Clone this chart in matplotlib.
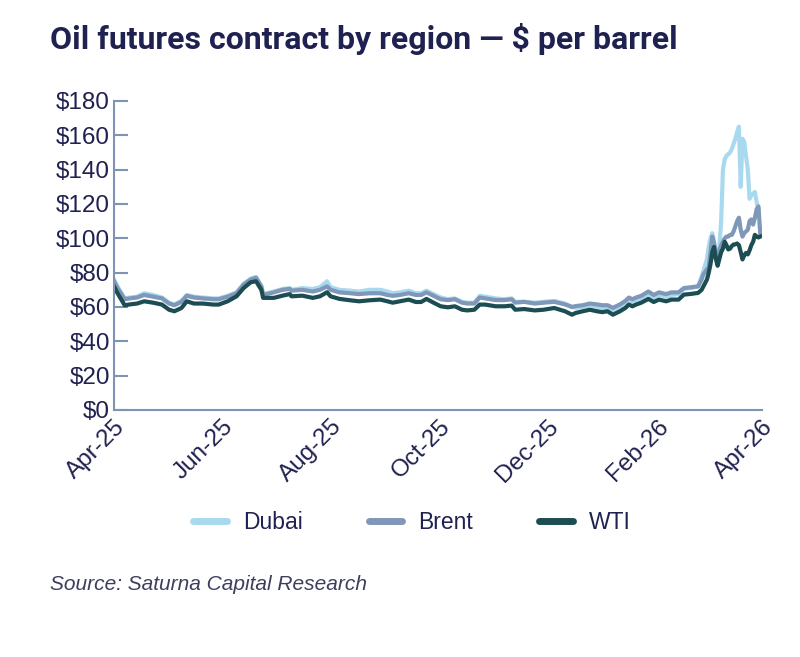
import numpy as np
import pandas as pd
import matplotlib
matplotlib.use("Agg")
import matplotlib.pyplot as plt
import matplotlib.dates as mdates

# values ($ per barrel)
dates = [
    "2025-04-01", "2025-04-03", "2025-04-07", "2025-04-10", "2025-04-14", "2025-04-18",
    "2025-04-23", "2025-04-28", "2025-05-02", "2025-05-05", "2025-05-09", "2025-05-12",
    "2025-05-16", "2025-05-21", "2025-05-27", "2025-05-30", "2025-06-04", "2025-06-09",
    "2025-06-13", "2025-06-17", "2025-06-20", "2025-06-23", "2025-06-24", "2025-06-30",
    "2025-07-05", "2025-07-09", "2025-07-10", "2025-07-16", "2025-07-22", "2025-07-26",
    "2025-07-30", "2025-08-01", "2025-08-06", "2025-08-12", "2025-08-17", "2025-08-23",
    "2025-08-29", "2025-09-02", "2025-09-05", "2025-09-09", "2025-09-14", "2025-09-18",
    "2025-09-21", "2025-09-24", "2025-09-28", "2025-10-02", "2025-10-06", "2025-10-10",
    "2025-10-14", "2025-10-17", "2025-10-21", "2025-10-24", "2025-10-27", "2025-11-02",
    "2025-11-07", "2025-11-11", "2025-11-13", "2025-11-18", "2025-11-24", "2025-11-29",
    "2025-12-05", "2025-12-11", "2025-12-15", "2025-12-17", "2025-12-21", "2025-12-25",
    "2025-12-29", "2026-01-01", "2026-01-04", "2026-01-07", "2026-01-11", "2026-01-14",
    "2026-01-16", "2026-01-18", "2026-01-20", "2026-01-23", "2026-01-27", "2026-01-30",
    "2026-02-02", "2026-02-06", "2026-02-09", "2026-02-13", "2026-02-16", "2026-02-20",
    "2026-02-24", "2026-02-26", "2026-02-27", "2026-03-01", "2026-03-02", "2026-03-03",
    "2026-03-04", "2026-03-05", "2026-03-06", "2026-03-07", "2026-03-08", "2026-03-09",
    "2026-03-10", "2026-03-11", "2026-03-12", "2026-03-13", "2026-03-14", "2026-03-15",
    "2026-03-16", "2026-03-17", "2026-03-18", "2026-03-19", "2026-03-20", "2026-03-21",
    "2026-03-22", "2026-03-23", "2026-03-24", "2026-03-25", "2026-03-26", "2026-03-27",
    "2026-03-28", "2026-03-29", "2026-03-30", "2026-03-31",
]

wti = [
    72.0, 68.0, 61.0, 61.5, 62.0, 63.3, 62.5, 61.4, 58.4, 57.5, 59.4, 63.3,
    62.0, 62.0, 61.4, 61.4, 63.3, 66.2, 71.0, 74.4, 75.0, 70.0, 65.3, 65.3,
    66.6, 67.5, 66.2, 66.6, 65.3, 66.2, 68.6, 66.2, 64.7, 63.9, 63.3, 63.9,
    64.3, 63.3, 62.5, 63.3, 64.3, 62.9, 62.9, 64.7, 62.5, 60.4, 59.8, 60.4,
    58.4, 58.0, 58.4, 61.4, 61.4, 60.4, 60.4, 60.8, 58.4, 58.8, 58.0, 58.4,
    59.4, 57.5, 55.5, 56.5, 57.5, 58.4, 57.5, 57.0, 57.5, 55.5, 57.5, 59.4,
    61.4, 60.4, 61.4, 62.5, 64.7, 62.9, 64.3, 63.3, 64.3, 64.3, 67.2, 67.6,
    68.2, 70.0, 72.0, 76.0, 80.0, 85.0, 92.0, 95.0, 88.0, 84.0, 88.0, 92.0,
    94.0, 98.0, 96.0, 93.5, 94.0, 95.5, 96.4, 96.5, 97.0, 96.0, 92.0, 87.7,
    90.0, 91.5, 90.6, 93.0, 96.0, 98.0, 102.0, 101.0, 100.5, 101.0,
]

brent = [
    75.0, 71.0, 64.5, 65.0, 65.5, 67.0, 66.0, 65.0, 62.0, 61.0, 63.0, 66.5,
    65.5, 65.0, 64.5, 64.5, 66.0, 68.0, 73.0, 76.0, 77.0, 72.0, 67.0, 68.5,
    70.0, 70.5, 69.5, 70.0, 69.0, 70.0, 72.0, 70.0, 68.5, 68.0, 67.5, 68.0,
    68.0, 67.0, 66.5, 67.0, 68.0, 67.0, 67.0, 68.5, 66.5, 64.5, 64.0, 64.5,
    62.5, 62.0, 62.0, 65.5, 65.0, 64.0, 64.0, 64.5, 62.5, 63.0, 62.0, 62.5,
    63.0, 61.5, 60.0, 60.5, 61.0, 62.0, 61.5, 61.0, 61.0, 59.5, 61.5, 63.5,
    65.5, 64.5, 65.5, 66.5, 69.0, 67.0, 68.5, 67.5, 68.5, 68.5, 71.0, 71.5,
    72.0, 76.0, 79.0, 82.0, 83.0, 92.0, 101.0, 97.0, 91.0, 89.0, 93.0, 96.0,
    98.0, 100.0, 101.0, 101.0, 102.0, 102.0, 104.0, 107.0, 110.0, 112.0, 105.0, 101.0,
    103.0, 104.0, 105.0, 110.0, 111.0, 108.0, 112.0, 117.0, 118.6, 103.0,
]

dubai = [
    76.0, 72.0, 65.0, 65.5, 66.0, 68.0, 67.0, 65.5, 62.5, 61.5, 63.5, 67.0,
    66.0, 65.5, 65.0, 65.0, 66.5, 68.5, 73.5, 76.5, 77.5, 72.0, 67.5, 69.0,
    70.5, 71.0, 70.0, 71.0, 70.5, 71.5, 75.0, 71.5, 70.0, 69.5, 69.0, 70.0,
    70.0, 69.0, 68.0, 68.5, 69.5, 68.0, 68.0, 69.5, 67.5, 65.5, 64.5, 65.0,
    63.0, 62.5, 62.5, 66.5, 66.0, 65.0, 64.5, 65.0, 63.0, 63.0, 62.5, 63.0,
    63.5, 62.0, 60.0, 59.5, 60.0, 61.0, 60.0, 59.5, 59.5, 58.0, 60.0, 62.0,
    64.0, 63.0, 64.0, 65.0, 67.5, 65.5, 67.0, 66.0, 67.0, 67.5, 70.5, 71.0,
    72.0, 78.0, 81.0, 88.0, 95.0, 100.0, 103.0, 98.0, 92.0, 90.0, 95.0, 110.0,
    140.0, 146.0, 148.0, 149.0, 150.0, 152.0, 155.0, 158.0, 162.0, 165.0, 130.0, 158.0,
    156.0, 148.0, 140.0, 123.0, 125.0, 126.0, 127.0, 121.0, 117.0, np.nan,
]

series = [("Dubai", dubai, "#a9d9ee"), ("Brent", brent, "#7f97b8"), ("WTI", wti, "#1c4d52")]

navy = "#1f2150"
axis_col = "#7f93b5"

x = pd.to_datetime(dates)

fig = plt.figure(figsize=(8, 6.57), dpi=100)
ax = fig.add_axes([0.1425, 0.376, 0.81, 0.4703])

for name, vals, col in series:
    ax.plot(x, vals, color=col, lw=3.0, label=name, solid_joinstyle="round")

ax.set_ylim(0, 180)
ax.set_yticks(np.arange(0, 181, 20))
ax.yaxis.set_major_formatter(matplotlib.ticker.FuncFormatter(lambda v, p: f"${v:.0f}"))
ax.set_xlim(pd.Timestamp("2025-04-01"), pd.Timestamp("2026-04-01"))
ax.xaxis.set_major_locator(mdates.MonthLocator(bymonth=[2, 4, 6, 8, 10, 12]))
ax.xaxis.set_major_formatter(mdates.DateFormatter("%b-%y"))

for s in ["top", "right"]:
    ax.spines[s].set_visible(False)
for s in ["left", "bottom"]:
    ax.spines[s].set_color(axis_col)
    ax.spines[s].set_linewidth(1.5)

ax.tick_params(axis="y", direction="in", length=10, width=1.5, color=axis_col,
               labelsize=17.5, labelcolor=navy, pad=3)
ax.tick_params(axis="x", length=0, labelsize=17.5, labelcolor=navy, pad=4)
for lab in ax.get_yticklabels() + ax.get_xticklabels():
    lab.set_fontfamily("Liberation Sans")
for lab in ax.get_xticklabels():
    lab.set_rotation(45)
    lab.set_ha("right")
    lab.set_rotation_mode("anchor")

leg = fig.legend(loc="center", bbox_to_anchor=(0.515, 0.205), ncol=3, frameon=False,
                 prop={"family": "Liberation Sans", "size": 16.5}, handlelength=1.45,
                 columnspacing=2.9, handletextpad=0.7, labelcolor=navy)
for h in leg.get_lines():
    h.set_linewidth(5)
    h.set_solid_capstyle("round")

fig.text(0.062, 0.94, "Oil futures contract by region \u2014 $ per barrel",
         fontsize=23, fontweight="bold", color=navy, family=["Roboto", "DejaVu Sans"],
         va="center", ha="left")
fig.text(0.062, 0.11, "Source: Saturna Capital Research", fontsize=15, style="italic",
         color="#3b3f5e", family="Liberation Sans", va="center", ha="left")

fig.savefig("out.png", dpi=100, facecolor="white")
